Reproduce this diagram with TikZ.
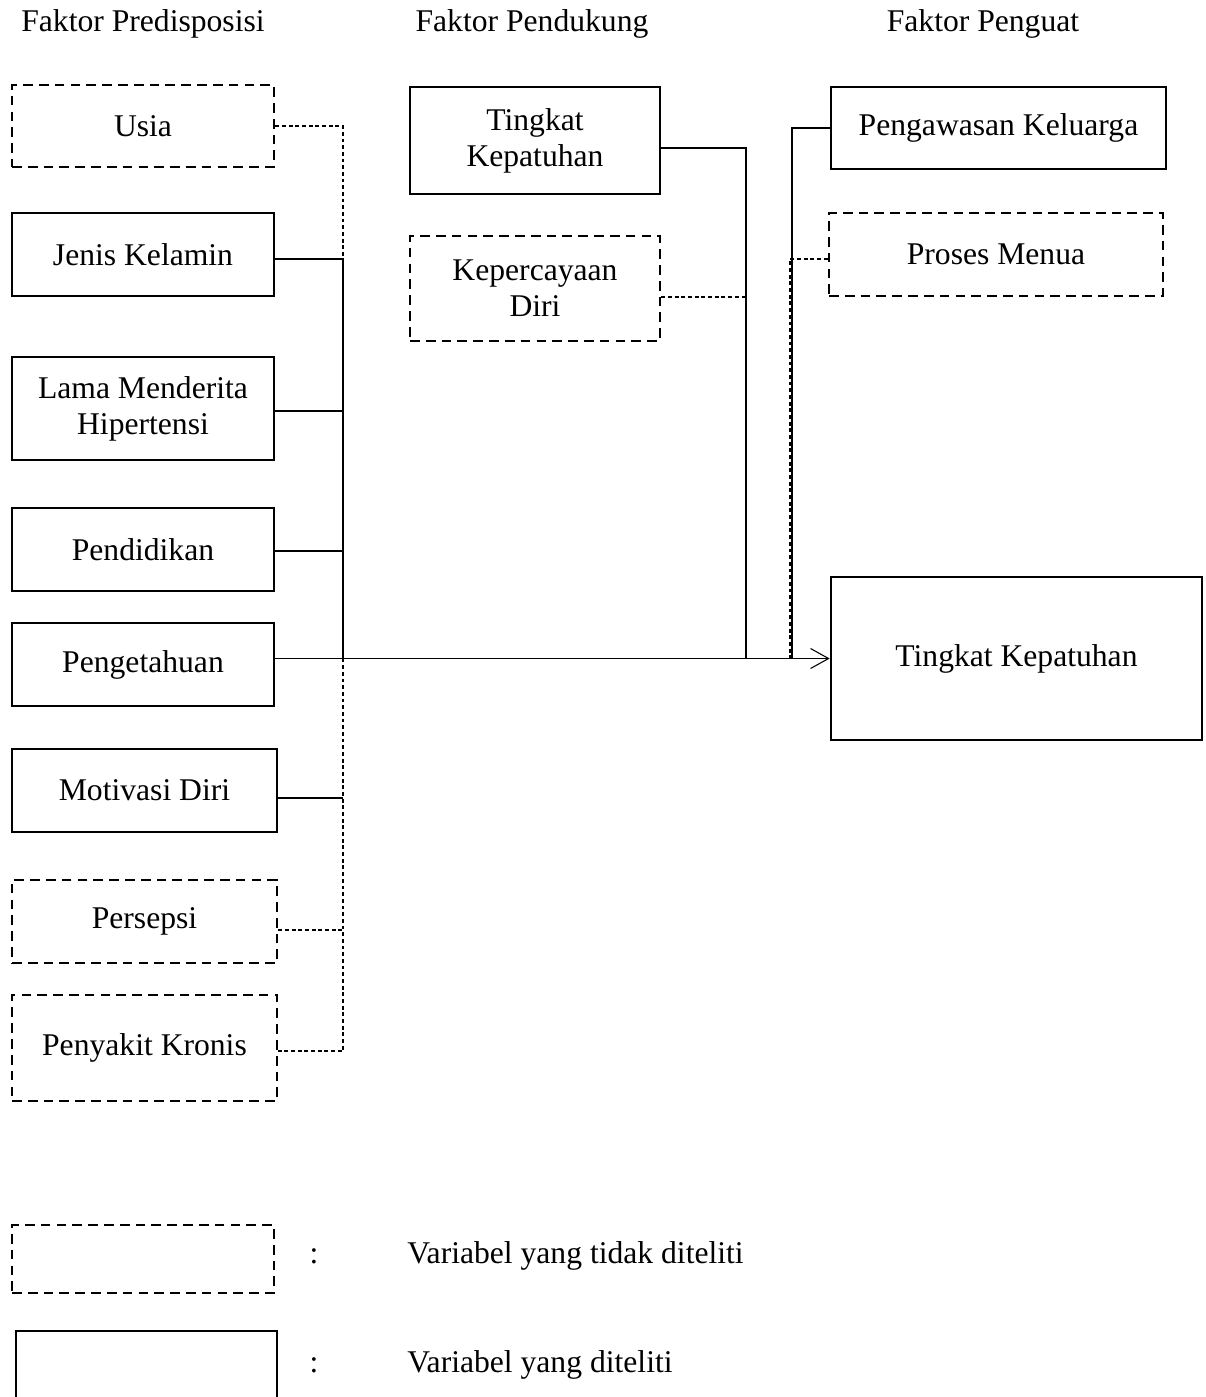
\documentclass[tikz,border=0pt]{standalone}
\usepackage{fontspec}
\setmainfont{Liberation Serif}
\usetikzlibrary{arrows.meta}
\tikzset{
  solidbox/.style={draw, line width=1.6pt, align=center, inner sep=0pt},
  dashbox/.style={draw, line width=1.6pt, dash pattern=on 5.5pt off 3.5pt, align=center, inner sep=0pt},
  link/.style={line width=0.6pt},
  dashlink/.style={line width=0.6pt, dash pattern=on 2.2pt off 1.6pt},
  label/.style={inner sep=0pt}
}
\begin{document}
\begin{tikzpicture}[x=0.02cm, y=-0.02cm, font=\fontsize{18}{20.5}\selectfont]
    \useasboundingbox (0,0) rectangle (1205,1397);
    % headers
    \node[label] (hpre) at (143,24) {Faktor Predisposisi};
    \node[label] (hpen) at (532,24) {Faktor Pendukung};
    \node[label] (hpgt) at (983,24) {Faktor Penguat};
    % faktor predisposisi
    \node[dashbox, minimum width=5.24cm, minimum height=1.64cm] (usia) at (143,126) {Usia};
    \node[solidbox, minimum width=5.24cm, minimum height=1.66cm] (jenis) at (143,254.5) {Jenis Kelamin};
    \node[solidbox, minimum width=5.24cm, minimum height=2.06cm] (lama) at (143,408.5) {Lama Menderita\\Hipertensi};
    \node[solidbox, minimum width=5.24cm, minimum height=1.66cm] (didik) at (143,549.5) {Pendidikan};
    \node[solidbox, minimum width=5.24cm, minimum height=1.66cm] (tahu) at (143,664.5) {Pengetahuan};
    \node[solidbox, minimum width=5.3cm, minimum height=1.66cm] (motiv) at (144.5,790.5) {Motivasi Diri};
    \node[dashbox, minimum width=5.3cm, minimum height=1.66cm] (sepsi) at (144.5,921.5) {Persepsi};
    \node[dashbox, minimum width=5.3cm, minimum height=2.12cm] (kronis) at (144.5,1048) {Penyakit Kronis};
    % faktor pendukung
    \node[solidbox, minimum width=5.0cm, minimum height=2.14cm] (patuh) at (535,140.5) {Tingkat\\Kepatuhan};
    \node[dashbox, minimum width=5.0cm, minimum height=2.10cm] (percaya) at (535,288.5) {Kepercayaan\\Diri};
    % faktor penguat
    \node[solidbox, minimum width=6.7cm, minimum height=1.64cm] (awas) at (998.5,128) {Pengawasan Keluarga};
    \node[dashbox, minimum width=6.68cm, minimum height=1.66cm] (menua) at (996,254.5) {Proses Menua};
    % hasil
    \node[solidbox, minimum width=7.42cm, minimum height=3.26cm] (hasil) at (1016.5,658.5) {Tingkat Kepatuhan};
    % bus lines
    \coordinate (busL) at (343,0);
    \coordinate (busM) at (746,0);
    \coordinate (busR) at (792,0);
    \coordinate (busRd) at (790,0);
    \coordinate (jenisE) at ([yshift=-0.09cm]jenis.east);
    \coordinate (lamaE) at ([yshift=-0.05cm]lama.east);
    \coordinate (didikE) at ([yshift=-0.03cm]didik.east);
    \coordinate (motivE) at ([yshift=-0.15cm]motiv.east);
    \coordinate (sepsiE) at ([yshift=-0.17cm]sepsi.east);
    \coordinate (kronisE) at ([yshift=-0.06cm]kronis.east);
    \coordinate (patuhE) at ([yshift=-0.15cm]patuh.east);
    \coordinate (percayaE) at ([yshift=-0.17cm]percaya.east);
    \coordinate (menuaW) at ([yshift=-0.09cm]menua.west);
    % left side connectors
    \draw[dashlink] (usia.east) -- (usia.east -| busL) -- (busL |- jenisE);
    \draw[link] (jenisE) -- (jenisE -| busL) -- (busL |- hasil.west);
    \draw[link] (lamaE) -- (lamaE -| busL);
    \draw[link] (didikE) -- (didikE -| busL);
    \draw[link] (motivE) -- (motivE -| busL);
    \draw[dashlink] (busL |- hasil.west) -- (busL |- kronisE) -- (kronisE);
    \draw[dashlink] (sepsiE) -- (sepsiE -| busL);
    % middle connectors
    \draw[link] (patuhE) -| (busM |- hasil.west);
    \draw[dashlink] (percayaE) -- (percayaE -| busM);
    % right connectors
    \draw[link] (awas.west) -| (busR |- hasil.west);
    \draw[dashlink] (menuaW) -| (busRd |- hasil.west);
    % main arrow
    \draw[link, -{Straight Barb[length=0.36cm, width=0.4cm]}] (tahu.east |- hasil.west) -- (hasil.west);
    % legend
    \node[dashbox, minimum width=5.24cm, minimum height=1.36cm] (keyd) at (143,1259) {};
    \node[solidbox, minimum width=5.22cm, minimum height=1.36cm] (keys) at (146.5,1365) {};
    \node[label] (cold) at (314,1256) {:};
    \node[label] (cols) at (314,1365) {:};
    \node[label, anchor=west] (txtd) at (407,1256) {Variabel yang tidak diteliti};
    \node[label, anchor=west] (txts) at (407,1365) {Variabel yang diteliti};
\end{tikzpicture}
\end{document}
